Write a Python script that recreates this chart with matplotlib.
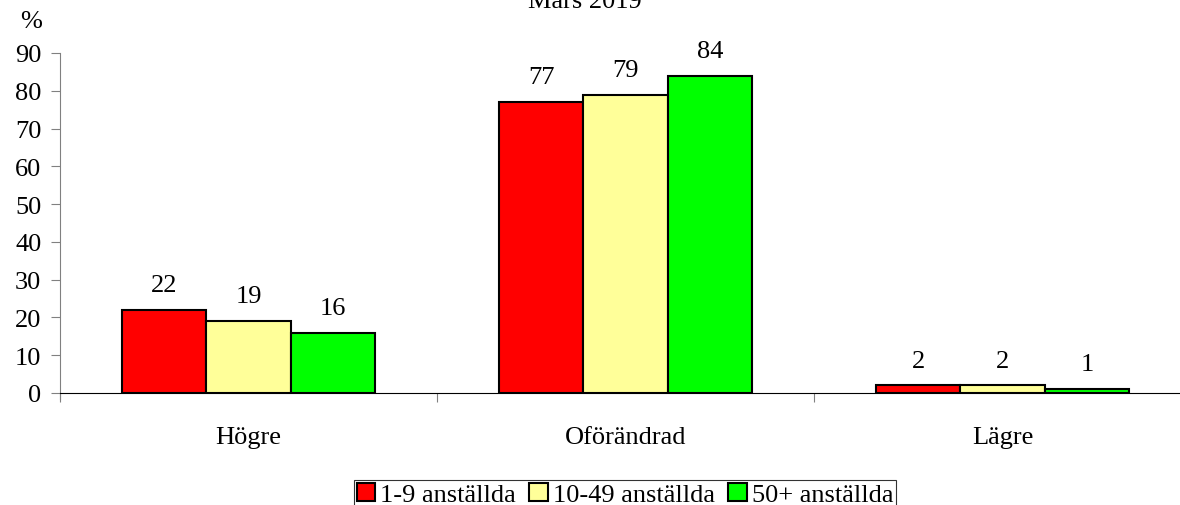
import matplotlib.pyplot as plt
import numpy as np

# Data
categories = ['Högre', 'Oförändrad', 'Lägre']
series_names = ['1-9 anställda', '10-49 anställda', '50+ anställda']
small = [22, 77, 2]
medium = [19, 79, 2]
large = [16, 84, 1]
colors = ['#FF0000', '#FFFF99', '#00FF00']

plt.rcParams['font.family'] = ['Liberation Serif', 'DejaVu Serif']
plt.rcParams['font.size'] = 19

fig = plt.figure(figsize=(11.8, 5.06), dpi=100)
ax = fig.add_axes([60 / 1180, 112 / 506, 1131 / 1180, 340 / 506])

x = np.arange(len(categories))
width = 0.224
all_series = [small, medium, large]
for i, (vals, name, col) in enumerate(zip(all_series, series_names, colors)):
    bars = ax.bar(x + (i - 1) * width, vals, width, color=col, edgecolor='black',
                  linewidth=1.5, label=name)
    for b, v in zip(bars, vals):
        ax.text(b.get_x() + b.get_width() / 2, v + 5, str(v), ha='center',
                va='baseline')

ax.set_xlim(-0.5, 2.5)
ax.set_ylim(0, 90)
ax.set_yticks(range(0, 91, 10))

# category boundaries get tick marks, centres get labels
ax.set_xticks(np.arange(-0.5, 3.0, 1.0))
ax.set_xticklabels([])
ax.set_xticks(x, minor=True)
ax.set_xticklabels(categories, minor=True)
ax.tick_params(axis='x', which='major', length=6.5, color='#808080', direction='out')
ax.tick_params(axis='x', which='minor', length=0, pad=24)
ax.tick_params(axis='y', length=6.5, color='#808080', pad=7)

ax.spines['top'].set_visible(False)
ax.spines['right'].set_visible(False)
ax.spines['left'].set_color('#808080')
ax.spines['left'].set_bounds(-1.5, 90)
ax.spines['bottom'].set_color('black')
ax.spines['bottom'].set_zorder(5)

fig.text(585 / 1180, 1 - 8 / 506, 'Mars 2019', ha='center', va='baseline')
fig.text(31 / 1180, 1 - 22 / 506, '%', ha='center', va='center')

leg = fig.legend(loc='upper center', bbox_to_anchor=(625 / 1180, 25 / 506), ncol=3,
                 frameon=True, fancybox=False, edgecolor='black', handlelength=0.7,
                 handleheight=0.7, handletextpad=0.2, columnspacing=0.5,
                 borderpad=0.1, borderaxespad=0,
                 prop={'family': ['Liberation Serif', 'DejaVu Serif'], 'size': 19})
leg.get_frame().set_linewidth(0.8)

fig.savefig('out.png', dpi=100)
